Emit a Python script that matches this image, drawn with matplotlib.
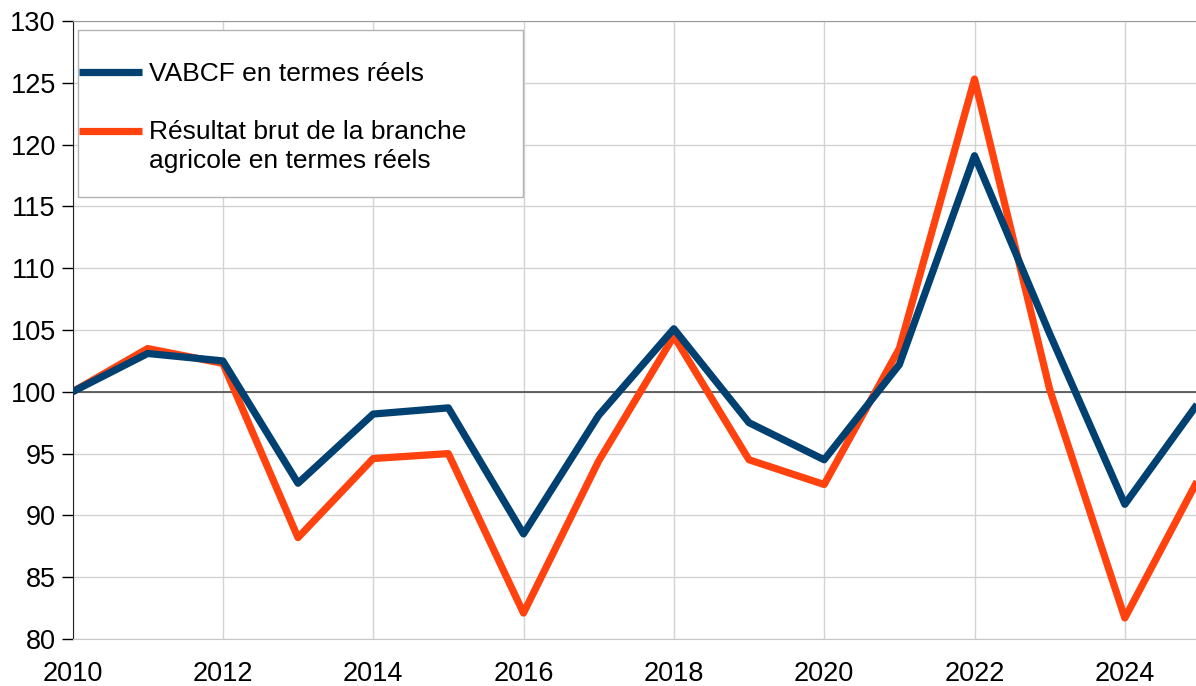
import numpy as np
import matplotlib.pyplot as plt
from matplotlib.legend_handler import HandlerLine2D
from matplotlib.patches import Rectangle

plt.rcParams['font.family'] = ['Liberation Sans', 'DejaVu Sans']

annees = list(range(2010, 2026))
vabcf = [100, 103.1, 102.5, 92.6, 98.2, 98.7, 88.5, 98.1, 105.1, 97.5, 94.5,
         102.2, 119.1, 104.7, 90.9, 99.3]
resultat = [100, 103.5, 102.3, 88.2, 94.6, 95.0, 82.1, 94.4, 104.5, 94.5, 92.5,
            103.5, 125.3, 100.2, 81.7, 93.2]

lab_bleu = "VABCF en termes réels"
lab_orange = "Résultat brut de la branche\nagricole en termes réels"


# handle on the first line of a two-line label
class HandlerHaut(HandlerLine2D):
    def __init__(self, dy=0, **kw):
        super().__init__(**kw)
        self.dy = dy

    def create_artists(self, legend, orig_handle, xdescent, ydescent,
                       width, height, fontsize, trans):
        arts = super().create_artists(legend, orig_handle, xdescent, ydescent,
                                      width, height, fontsize, trans)
        for a in arts:
            a.set_ydata(np.asarray(a.get_ydata()) + self.dy)
        return arts


fig = plt.figure(figsize=(11.96, 6.86), dpi=100)
ax = fig.add_axes([72.5 / 1196, 47 / 686, 1127.5 / 1196, 618 / 686])

ax.axhline(100, color='#3c3c3c', lw=1.1, zorder=2)
l_or, = ax.plot(annees, resultat, color='#ff420e', lw=5.2, zorder=3,
                solid_joinstyle='round', solid_capstyle='butt', label=lab_orange)
l_bl, = ax.plot(annees, vabcf, color='#004172', lw=5.2, zorder=4,
                solid_joinstyle='round', solid_capstyle='butt', label=lab_bleu)

ax.set_xlim(2010, 2025)
ax.set_ylim(80, 130)
ax.set_xticks(range(2010, 2025, 2))
ax.set_yticks(range(80, 131, 5))
ax.grid(True, color='#d3d3d3', lw=1, zorder=0)
ax.set_axisbelow(True)

ax.tick_params(axis='x', length=0, pad=16, labelsize=19.5)
ax.tick_params(axis='y', length=8, width=1, pad=4, labelsize=19.5, direction='out')

ax.spines['left'].set_color('#222222')
ax.spines['bottom'].set_color('#c8c8c8')
ax.spines['top'].set_color('#9a9a9a')
ax.spines['right'].set_visible(False)

# legend frame drawn separately (LibreOffice style box)
cadre = Rectangle((78 / 1196, 1 - 197 / 686), 445 / 1196, 167 / 686,
                  transform=fig.transFigure, facecolor='white',
                  edgecolor='#b3b3b3', lw=1, zorder=5, clip_on=False)
ax.add_patch(cadre)

leg = ax.legend(handles=[l_bl, l_or], loc='upper left',
                bbox_to_anchor=(79 / 1196, 1 - 62 / 686),
                bbox_transform=fig.transFigure,
                fontsize=19, frameon=False, handlelength=2.4,
                handletextpad=0.25, borderaxespad=0, borderpad=0,
                labelspacing=1.28,
                handler_map={l_or: HandlerHaut(dy=11)})
for t in leg.get_texts():
    t.set_linespacing(1.25)
leg.set_zorder(6)

fig.savefig('out.png', dpi=100)
